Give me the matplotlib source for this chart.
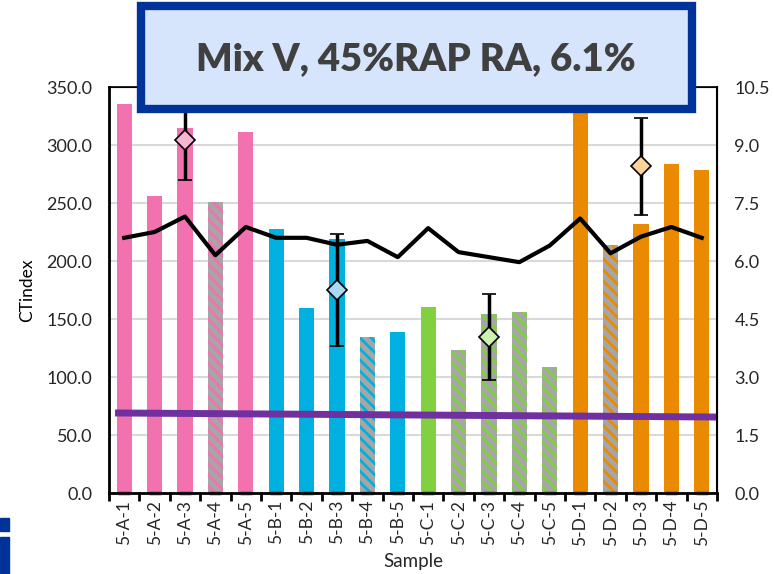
import matplotlib.pyplot as plt
import matplotlib.patches as mpatches
from matplotlib.ticker import FormatStrFormatter, MultipleLocator, FixedLocator
import numpy as np

plt.rcParams["font.family"] = ["Lato", "DejaVu Sans"]
plt.rcParams["hatch.linewidth"] = 2.0

samples = ["5-A-1", "5-A-2", "5-A-3", "5-A-4", "5-A-5",
           "5-B-1", "5-B-2", "5-B-3", "5-B-4", "5-B-5",
           "5-C-1", "5-C-2", "5-C-3", "5-C-4", "5-C-5",
           "5-D-1", "5-D-2", "5-D-3", "5-D-4", "5-D-5"]
ct_index = [335, 256, 315, 251, 311,
            228, 159.5, 219, 134.5, 139,
            160, 123, 154, 156, 108.5,
            356, 214, 232, 283.5, 278.5]
hatched = [3, 8, 11, 12, 13, 14, 16]
air_voids = [6.6, 6.75, 7.15, 6.15, 6.88,
             6.6, 6.6, 6.42, 6.52, 6.1,
             6.85, 6.23, 6.1, 5.97, 6.4,
             7.1, 6.2, 6.63, 6.88, 6.6]
threshold = [69.0, 65.5]
mean_idx = [2, 7, 12, 17]
mean_vals = [9.13, 5.25, 4.03, 8.45]
mean_err = [1.03, 1.46, 1.12, 1.25]

group_colors = ["#F272B0", "#00B0E0", "#80D040", "#EA8A00"]
light_colors = ["#F8B6D4", "#A8DAF6", "#CDEFB0", "#FFD29A"]

fig = plt.figure(figsize=(7.74, 5.74), dpi=100)
ax = fig.add_axes([0.1408, 0.1411, 0.7855, 0.7073])
x = np.arange(len(samples))

for i, v in enumerate(ct_index):
    c = group_colors[i // 5]
    if i in hatched:
        ax.bar(x[i], v, width=0.5, color="#A6A6A6", edgecolor=c,
               hatch="\\\\\\", linewidth=0, zorder=2)
    else:
        ax.bar(x[i], v, width=0.5, color=c, linewidth=0, zorder=2)
ax.plot(x, [0] * len(x), ls="none", marker="_", color="#1a1a1a",
        markersize=9, mew=2.5, zorder=3, clip_on=False)

ax.set_xlim(-0.5, len(samples) - 0.5)
ax.set_ylim(0, 350)
ax.yaxis.set_major_locator(MultipleLocator(50))
ax.yaxis.set_major_formatter(FormatStrFormatter("%.1f"))
ax.grid(axis="y", color="#D9D9D9", lw=1.5, zorder=0)
ax.set_axisbelow(True)
ax.xaxis.set_major_locator(FixedLocator(np.arange(-0.5, len(samples), 1.0)))
ax.xaxis.set_minor_locator(FixedLocator(x))
ax.set_xticklabels([], minor=False)
ax.set_xticklabels(samples, minor=True, rotation=90, fontsize=12.5, color="#262626")
ax.tick_params(axis="x", which="major", length=6, width=2, direction="out")
ax.tick_params(axis="x", which="minor", length=0, pad=5)
ax.tick_params(axis="y", length=0, pad=12, labelsize=13, labelcolor="#262626")
ax.set_ylabel("CTindex", fontsize=12.5, labelpad=8)
ax.set_xlabel("Sample", fontsize=13.5, labelpad=5, color="#262626")
for s in ["left", "bottom"]:
    ax.spines[s].set_linewidth(2)
ax.spines["top"].set_linewidth(1.2)

ax2 = ax.twinx()
ax2.set_ylim(0, 10.5)
ax2.yaxis.set_major_locator(MultipleLocator(1.5))
ax2.yaxis.set_major_formatter(FormatStrFormatter("%.1f"))
ax2.tick_params(axis="y", length=0, pad=12.5, labelsize=13, labelcolor="#262626")
ax2.spines["right"].set_linewidth(1.5)
ax2.set_ylabel("Air Voids (%)", fontsize=12, color="#BFBFBF", labelpad=16)

xl = ax.get_xlim()
ax.plot([xl[0] + 0.2, xl[1]], threshold, color="#7030A0", lw=5, zorder=4,
        solid_capstyle="butt")
ax2.plot(x, air_voids, color="black", lw=3, zorder=3)
for k, i in enumerate(mean_idx):
    ax2.errorbar(x[i], mean_vals[k], yerr=mean_err[k], fmt="D",
                 color="black", ecolor="black", elinewidth=2.5, capsize=5,
                 capthick=3, markersize=10, mfc=light_colors[i // 5],
                 mec="black", mew=1.2, zorder=5)

# title box
box = mpatches.Rectangle((141 / 774, 1 - 109 / 574), 551 / 774, 103 / 574,
                         transform=fig.transFigure, facecolor="#D6E4FC",
                         edgecolor="#003399", linewidth=6, zorder=10)
fig.add_artist(box)
fig.text(416 / 774, 1 - 59 / 574, "Mix V, 45%RAP RA, 6.1%", ha="center",
         va="center", fontsize=27.5, fontweight="heavy", color="#404040", zorder=11)

# bits of a neighbouring logo at the lower-left edge
fig.add_artist(mpatches.Rectangle((0, 1 - 531 / 574), 9 / 774, 13 / 574,
                                  transform=fig.transFigure, color="#003399"))
fig.add_artist(mpatches.Rectangle((0, 0), 9 / 774, 37 / 574,
                                  transform=fig.transFigure, color="#003399"))

fig.savefig("out.png", dpi=100)
